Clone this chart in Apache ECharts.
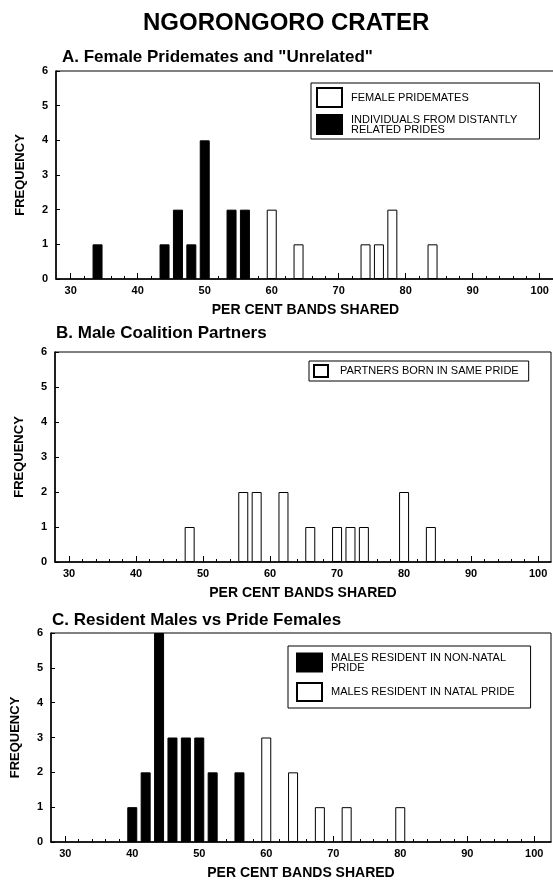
<!DOCTYPE html>
<html>
<head>
<meta charset="utf-8">
<style>
  html, body { margin: 0; padding: 0; background: #fff; overflow: hidden; }
  #chart { width: 553px; height: 880px; }
</style>
<script src="https://cdn.jsdelivr.net/npm/echarts@6/dist/echarts.min.js"></script>
</head>
<body>
<div id="chart"></div>
<script>
// ---------------- DATA ----------------
const mainTitle = 'NGORONGORO CRATER';
const panelTitles = ['A. Female Pridemates and "Unrelated"', 'B. Male Coalition Partners', 'C. Resident Males vs Pride Females'];
const xAxisName = 'PER CENT BANDS SHARED';
const yAxisName = 'FREQUENCY';
const xTickLabels = [30, 40, 50, 60, 70, 80, 90, 100];
const xMinorTicks = [30, 32, 34, 36, 38, 40, 42, 44, 46, 48, 50, 52, 54, 56, 58, 60, 62, 64, 66, 68, 70, 72, 74, 76, 78, 80, 82, 84, 86, 88, 90, 92, 94, 96, 98, 100];

// Panel A
const aFemaleName = 'FEMALE PRIDEMATES';
const aFemaleX = [60, 64, 74, 76, 78, 84];
const aFemaleY = [2, 1, 1, 1, 2, 1];
const aUnrelName = 'INDIVIDUALS FROM DISTANTLY RELATED PRIDES';
const aUnrelX = [34, 44, 46, 48, 50, 54, 56];
const aUnrelY = [1, 1, 2, 1, 4, 2, 2];

// Panel B
const bPartName = 'PARTNERS BORN IN SAME PRIDE';
const bPartX = [48, 56, 58, 62, 66, 70, 72, 74, 80, 84];
const bPartY = [1, 2, 2, 2, 1, 1, 1, 1, 2, 1];

// Panel C
const cNonNatalName = 'MALES RESIDENT IN NON-NATAL PRIDE';
const cNonNatalX = [40, 42, 44, 46, 48, 50, 52, 56];
const cNonNatalY = [1, 2, 6, 3, 3, 3, 2, 2];
const cNatalName = 'MALES RESIDENT IN NATAL PRIDE';
const cNatalX = [60, 64, 68, 72, 80];
const cNatalY = [3, 2, 1, 1, 1];

const legendLines = {
  'INDIVIDUALS FROM DISTANTLY RELATED PRIDES': 'INDIVIDUALS FROM DISTANTLY\nRELATED PRIDES',
  'MALES RESIDENT IN NON-NATAL PRIDE': 'MALES RESIDENT IN NON-NATAL\nPRIDE'
};

// ---------------- LAYOUT / STYLE ----------------
const FONT = '"Liberation Sans", Arial, Helvetica, sans-serif';
const pairs = (xs, ys) => xs.map((x, i) => [x, ys[i]]);

const grids = [
  { left: 56, top: 71, width: 511, height: 208, xmin: 27.8, xmax: 104.07, namePad: [0, 12, 0, 0] },
  { left: 55, top: 352, width: 496, height: 210, xmin: 27.9, xmax: 101.93, namePad: [0, 0, 0, 0] },
  { left: 51, top: 633, width: 500, height: 209, xmin: 27.87, xmax: 102.5, namePad: [0, 0, 0, 0] }
];

const option = {
  animation: false,
  backgroundColor: '#fff',
  textStyle: { fontFamily: FONT },
  title: [
    { text: mainTitle, left: 138, top: 6, textStyle: { fontFamily: FONT, fontSize: 24, fontWeight: 'bold', color: '#000' } },
    { text: panelTitles[0], left: 57, top: 44, textStyle: { fontFamily: FONT, fontSize: 17, fontWeight: 'bold', color: '#000' } },
    { text: panelTitles[1], left: 51, top: 320, textStyle: { fontFamily: FONT, fontSize: 17, fontWeight: 'bold', color: '#000' } },
    { text: panelTitles[2], left: 47, top: 607, textStyle: { fontFamily: FONT, fontSize: 17, fontWeight: 'bold', color: '#000' } }
  ],
  grid: grids.map(g => ({
    left: g.left, top: g.top, width: g.width, height: g.height,
    outerBoundsMode: 'none', containLabel: false,
    show: true, borderColor: '#000', borderWidth: 1, backgroundColor: 'transparent'
  })),
  xAxis: [],
  yAxis: [],
  legend: [
    {
      left: 311, top: 83, orient: 'vertical', selectedMode: false,
      data: [aFemaleName, aUnrelName],
      itemWidth: 25, itemHeight: 19, itemGap: 6, icon: 'rect',
      padding: [4, 22, 4, 5], borderColor: '#000', borderWidth: 1,
      formatter: n => legendLines[n] || n,
      textStyle: { fontFamily: FONT, fontSize: 11, color: '#000', lineHeight: 10, padding: [0, 0, 0, 4] }
    },
    {
      left: 309, top: 361, orient: 'vertical', selectedMode: false,
      data: [bPartName],
      itemWidth: 14, itemHeight: 12, icon: 'rect',
      padding: [3, 10, 3, 4], borderColor: '#000', borderWidth: 1,
      textStyle: { fontFamily: FONT, fontSize: 11, color: '#000', padding: [0, 0, 0, 7] }
    },
    {
      left: 288, top: 646, orient: 'vertical', selectedMode: false,
      data: [cNonNatalName, cNatalName],
      itemWidth: 25, itemHeight: 18, itemGap: 9, icon: 'rect',
      padding: [6, 16, 6, 8], borderColor: '#000', borderWidth: 1,
      formatter: n => legendLines[n] || n,
      textStyle: { fontFamily: FONT, fontSize: 11, color: '#000', lineHeight: 10, padding: [0, 0, 0, 4] }
    }
  ],
  series: []
};

grids.forEach((g, i) => {
  // main x axis: labels + major ticks
  option.xAxis.push({
    type: 'value', gridIndex: i, min: g.xmin, max: g.xmax, position: 'bottom',
    name: xAxisName, nameLocation: 'middle', nameGap: 24,
    nameTextStyle: { fontFamily: FONT, fontSize: 14, fontWeight: 'bold', color: '#000', padding: g.namePad },
    axisLine: { show: true, onZero: false, lineStyle: { color: '#000', width: 1.5 } },
    axisTick: { show: true, inside: true, length: 6, customValues: xTickLabels, lineStyle: { color: '#000', width: 1 } },
    axisLabel: { show: true, customValues: xTickLabels, margin: 6, fontFamily: FONT, fontSize: 11, fontWeight: 'bold', color: '#000' },
    splitLine: { show: false }
  });
  // minor ticks axis
  option.xAxis.push({
    type: 'value', gridIndex: i, min: g.xmin, max: g.xmax, position: 'bottom',
    axisLine: { show: false, onZero: false },
    axisTick: { show: true, inside: true, length: 3, customValues: xMinorTicks, lineStyle: { color: '#000', width: 1 } },
    axisLabel: { show: false },
    splitLine: { show: false }
  });
  option.yAxis.push({
    type: 'value', gridIndex: i, min: 0, max: 6, interval: 1,
    name: yAxisName, nameLocation: 'middle', nameGap: 29,
    nameTextStyle: { fontFamily: FONT, fontSize: 13, fontWeight: 'bold', color: '#000' },
    axisLine: { show: true, lineStyle: { color: '#000', width: 1.5 } },
    axisTick: { show: true, inside: true, length: 4, lineStyle: { color: '#000' } },
    axisLabel: { margin: 8, fontFamily: FONT, fontSize: 11, fontWeight: 'bold', color: '#000' },
    splitLine: { show: false }
  });
});

const whiteStyle = { color: '#fff', borderColor: '#000', borderWidth: 1 };
const blackStyle = { color: '#000', borderColor: '#000', borderWidth: 1 };
function barSeries(name, xs, ys, gi, style) {
  return {
    type: 'bar', name: name, xAxisIndex: gi * 2, yAxisIndex: gi,
    data: pairs(xs, ys), barWidth: 10, barGap: '-100%',
    itemStyle: style, emphasis: { disabled: true }, silent: true
  };
}
option.series.push(barSeries(aUnrelName, aUnrelX, aUnrelY, 0, blackStyle));
option.series.push(barSeries(aFemaleName, aFemaleX, aFemaleY, 0, whiteStyle));
option.series.push(barSeries(bPartName, bPartX, bPartY, 1, whiteStyle));
option.series.push(barSeries(cNonNatalName, cNonNatalX, cNonNatalY, 2, blackStyle));
option.series.push(barSeries(cNatalName, cNatalX, cNatalY, 2, whiteStyle));

const chart = echarts.init(document.getElementById('chart'), null, { renderer: 'canvas' });
chart.setOption(option);
</script>
</body>
</html>
